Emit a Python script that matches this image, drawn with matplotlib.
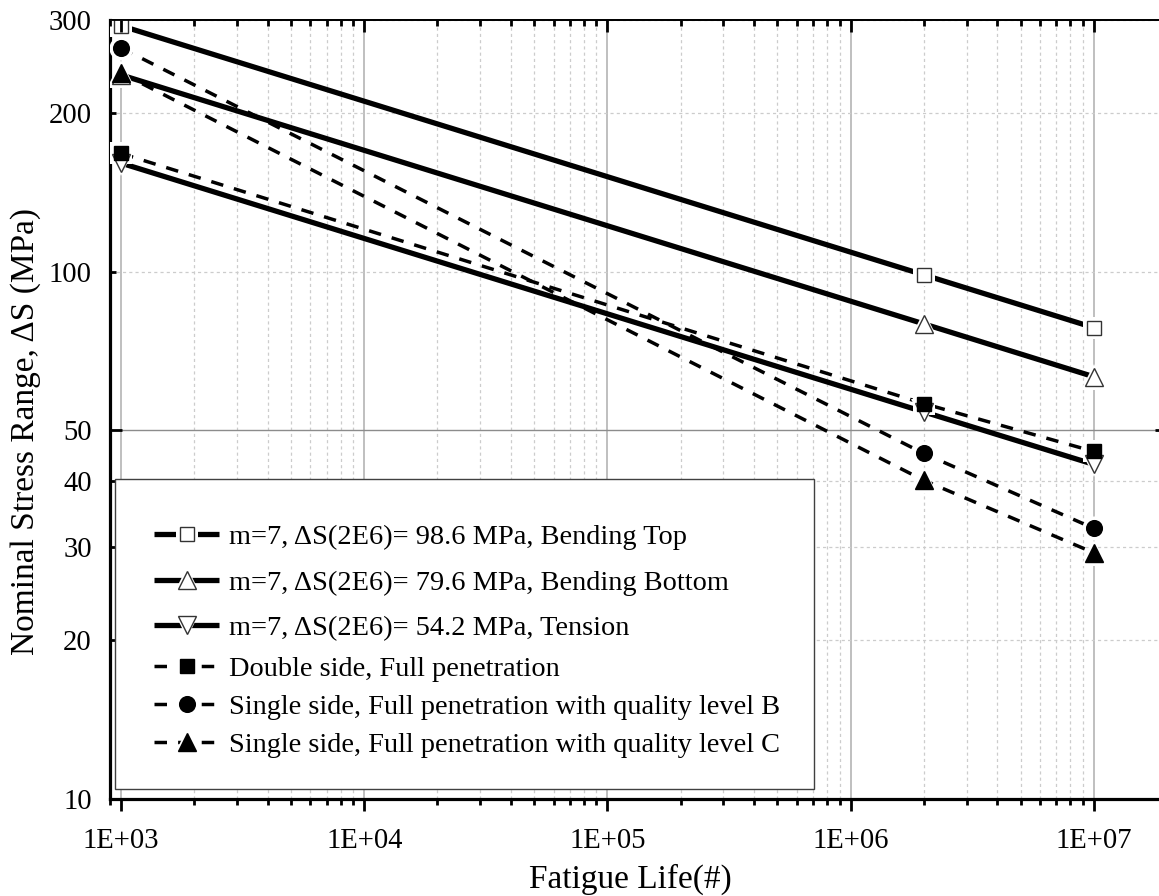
import matplotlib
matplotlib.use('Agg')
import matplotlib.pyplot as plt
from matplotlib.ticker import FixedLocator, LogLocator, FuncFormatter, NullFormatter
from matplotlib.legend_handler import HandlerTuple
from matplotlib.patches import Rectangle

plt.rcParams['font.family'] = ['Liberation Serif', 'DejaVu Serif']

# data
cycles = [1e3, 2e6, 1e7]
bend_top = [292.5, 98.6, 78.3]
bend_bottom = [236.0, 79.6, 63.2]
tension = [160.6, 54.2, 43.1]
double_full = [167.5, 56.2, 45.6]
single_b = [265.5, 45.2, 32.6]
single_c = [238.0, 40.2, 29.3]

labels = ['m=7, \u0394S(2E6)= 98.6 MPa, Bending Top',
          'm=7, \u0394S(2E6)= 79.6 MPa, Bending Bottom',
          'm=7, \u0394S(2E6)= 54.2 MPa, Tension',
          'Double side, Full penetration',
          'Single side, Full penetration with quality level B',
          'Single side, Full penetration with quality level C']

x_ticks = [1e3, 1e4, 1e5, 1e6, 1e7]
y_major = [10, 50]
y_minor = [20, 30, 40, 100, 200, 300]

fig = plt.figure(figsize=(11.59, 8.96), dpi=100)
ax = fig.add_axes([110/1159, 97/896, 1057/1159, 779/896])
ax.set_xscale('log')
ax.set_yscale('log')
ax.set_xlim(900, 2e7)
ax.set_ylim(10, 300)


def draw(y, ls, lw, marker, ms, filled):
    line, = ax.plot(cycles, y, color='black', ls=ls, lw=lw, zorder=3,
                    solid_capstyle='butt', dash_capstyle='butt')
    halo, = ax.plot(cycles, y, ls='none', marker=marker, ms=ms + 6,
                    mfc='white', mec='white', mew=0, zorder=4)
    mk, = ax.plot(cycles, y, ls='none', marker=marker, ms=ms,
                  mfc='black' if filled else 'white',
                  mec='black' if filled else '#333333', mew=1.0, zorder=5)
    return (line, halo, mk)


dash = (0, (3.6, 3.2))
h = []
h.append(draw(bend_top, '-', 3.8, 's', 9.7, False))
h.append(draw(bend_bottom, '-', 3.8, '^', 13, False))
h.append(draw(tension, '-', 3.8, 'v', 13, False))
h.append(draw(double_full, dash, 2.5, 's', 10, True))
h.append(draw(single_b, dash, 2.5, 'o', 11.3, True))
h.append(draw(single_c, dash, 2.5, '^', 13, True))

# axes styling
for s in ['left', 'bottom']:
    ax.spines[s].set_linewidth(2.3)
ax.spines['top'].set_linewidth(1.3)
ax.spines['right'].set_linewidth(1.3)

ax.xaxis.set_major_locator(FixedLocator(x_ticks))
ax.xaxis.set_major_formatter(FuncFormatter(lambda v, p: '{:.0E}'.format(v)))
ax.xaxis.set_minor_locator(LogLocator(base=10, subs=range(2, 10)))
ax.xaxis.set_minor_formatter(NullFormatter())
ax.yaxis.set_major_locator(FixedLocator(y_major))
ax.yaxis.set_minor_locator(FixedLocator(y_minor))
ax.yaxis.set_major_formatter(FuncFormatter(lambda v, p: '%g' % v))
ax.yaxis.set_minor_formatter(FuncFormatter(lambda v, p: '%g' % v))

ax.tick_params(axis='x', which='both', direction='out', bottom=True, top=False,
               labelsize=20.6, pad=12, width=2)
ax.tick_params(axis='x', which='major', length=8.6)
ax.tick_params(axis='x', which='minor', length=4.3)
ax.tick_params(axis='y', which='both', direction='in', left=True, right=True,
               labelsize=20.6, pad=13, width=2)
ax.tick_params(axis='y', which='major', length=8.6)
ax.tick_params(axis='y', which='minor', length=4.3)

ax2 = ax.twiny()
ax2.set_xscale('log')
ax2.set_xlim(ax.get_xlim())
ax2.xaxis.set_major_locator(FixedLocator(x_ticks))
ax2.xaxis.set_minor_locator(LogLocator(base=10, subs=range(2, 10)))
ax2.tick_params(axis='x', which='both', direction='in', labeltop=False, width=2)
ax2.tick_params(axis='x', which='major', length=8.6)
ax2.tick_params(axis='x', which='minor', length=4.3)
for s in ['left', 'bottom', 'right']:
    ax2.spines[s].set_visible(False)
ax2.spines['top'].set_linewidth(1.3)

ax.set_axisbelow(True)
ax.grid(True, which='major', axis='x', color='#b4b4b4', lw=1.2, ls='-')
ax.grid(True, which='major', axis='y', color='#8c8c8c', lw=1.0, ls='-')
ax.grid(True, which='minor', color='#cccccc', lw=0.9, ls=(0, (2.5, 2.5)))

ax.set_xlabel('Fatigue Life(#)', fontsize=24)
ax.set_ylabel('Nominal Stress Range, \u0394S (MPa)', fontsize=24)
ax.xaxis.set_label_coords(0.492, -0.083)
ax.yaxis.set_label_coords(-0.065, 0.472)

# legend box
box = Rectangle((0.0047, 0.0128), 0.661, 0.398, transform=ax.transAxes,
                fc='white', ec='#404040', lw=1.0, zorder=6)
ax.add_patch(box)

hmap = {tuple: HandlerTuple(ndivide=1)}
leg1 = ax.legend(h[:3], labels[:3], loc='upper left', bbox_to_anchor=(0.0416, 0.353),
                 frameon=False, borderpad=0, borderaxespad=0, handlelength=2.3,
                 handletextpad=0.36, labelspacing=0.70, fontsize=20.4, handler_map=hmap)
leg1.set_zorder(7)
ax.add_artist(leg1)
leg2 = ax.legend(h[3:], labels[3:], loc='upper left', bbox_to_anchor=(0.0416, 0.1836),
                 frameon=False, borderpad=0, borderaxespad=0, handlelength=2.3,
                 handletextpad=0.36, labelspacing=0.43, fontsize=20.4, handler_map=hmap)
leg2.set_zorder(7)

fig.savefig('out.png', dpi=100)
